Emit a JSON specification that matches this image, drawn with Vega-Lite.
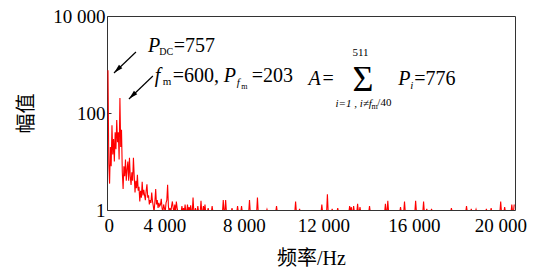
{
  "$schema": "https://vega.github.io/schema/vega-lite/v6.json",
  "width": 408,
  "height": 194,
  "autosize": {"type": "none"},
  "padding": {"left": 107, "top": 16, "right": 22, "bottom": 60},
  "datasets": {
    "spec": [
      {"f":0,"p":757},{"f":40,"p":9},{"f":80,"p":3.5},{"f":120,"p":20},{"f":160,"p":8},{"f":200,"p":56},{"f":240,"p":14},{"f":280,"p":29},{"f":320,"p":10},{"f":360,"p":40},
      {"f":400,"p":18},{"f":440,"p":72},{"f":480,"p":25},{"f":520,"p":40},{"f":560,"p":11},{"f":600,"p":203},{"f":640,"p":20},{"f":680,"p":45},{"f":720,"p":6},{"f":760,"p":2.7},
      {"f":800,"p":8},{"f":840,"p":5},{"f":880,"p":11},{"f":920,"p":4},{"f":960,"p":7},{"f":1000,"p":10},{"f":1040,"p":4},{"f":1080,"p":12},{"f":1120,"p":5},{"f":1160,"p":3.3},
      {"f":1200,"p":6},{"f":1240,"p":4},{"f":1280,"p":12},{"f":1320,"p":5},{"f":1360,"p":2.3},{"f":1400,"p":4},{"f":1440,"p":2.8},{"f":1480,"p":5.3},{"f":1520,"p":2.5},{"f":1560,"p":3},
      {"f":1600,"p":1.5},{"f":1640,"p":2.5},{"f":1680,"p":1.8},{"f":1720,"p":3.8},{"f":1760,"p":2},{"f":1800,"p":2.6},{"f":1840,"p":2},{"f":1880,"p":1.6},{"f":1920,"p":2.5},{"f":1960,"p":3.4},
      {"f":2000,"p":1.8},{"f":2040,"p":2},{"f":2080,"p":1.3},{"f":2120,"p":1.6},{"f":2160,"p":1.4},{"f":2200,"p":2.3},{"f":2240,"p":1.5},{"f":2280,"p":1.2},{"f":2320,"p":0.9},{"f":2360,"p":1.5},
      {"f":2400,"p":2.7},{"f":2440,"p":1.3},{"f":2480,"p":1.6},{"f":2520,"p":1.1},{"f":2560,"p":1.4},{"f":2600,"p":1.2},{"f":2640,"p":1.3},{"f":2680,"p":1.7},{"f":2720,"p":1.1},{"f":2760,"p":0.9},
      {"f":2800,"p":1.3},{"f":2840,"p":1.1},{"f":2880,"p":0.9},{"f":2920,"p":1.4},{"f":2960,"p":1.6},{"f":3000,"p":3.3},{"f":3040,"p":1.2},{"f":3080,"p":0.9},{"f":3120,"p":1.1},{"f":3160,"p":0.9},
      {"f":3200,"p":1.2},{"f":3240,"p":1.5},{"f":3280,"p":1.1},{"f":3320,"p":0.9},{"f":3360,"p":1.3},{"f":3400,"p":0.9},{"f":3440,"p":1.5},{"f":3480,"p":1.1},{"f":3520,"p":0.9},
      {"f":3680,"p":0.9},{"f":3720,"p":1.2},{"f":3760,"p":0.9},{"f":3800,"p":1.1},{"f":3840,"p":0.9},{"f":3880,"p":1.3},{"f":3920,"p":0.9},{"f":3960,"p":0.9},{"f":4000,"p":1.3},{"f":4040,"p":0.9},
      {"f":4080,"p":1.15},{"f":4120,"p":0.9},{"f":4160,"p":1.25},{"f":4200,"p":0.9},{"f":4240,"p":0.9},{"f":4280,"p":1.8},{"f":4320,"p":0.9},{"f":4360,"p":0.9},{"f":4400,"p":1.1},{"f":4440,"p":0.9},
      {"f":4480,"p":0.9},{"f":4520,"p":1.2},{"f":4560,"p":0.9},{"f":4640,"p":0.9},{"f":4680,"p":1.55},{"f":4720,"p":0.9},{"f":4760,"p":0.9},{"f":4800,"p":1.2},{"f":4840,"p":0.9},{"f":4880,"p":1.3},
      {"f":4920,"p":0.9},{"f":5000,"p":0.9},{"f":5040,"p":1.1},{"f":5080,"p":0.9},{"f":5200,"p":0.9},{"f":5240,"p":1.2},{"f":5280,"p":0.9},{"f":5760,"p":0.9},{"f":5800,"p":1.6},{"f":5840,"p":0.9},
      {"f":5880,"p":0.9},{"f":5920,"p":1.6},{"f":5960,"p":0.9},{"f":6200,"p":0.9},{"f":6240,"p":1.1},{"f":6280,"p":0.9},{"f":6480,"p":0.9},{"f":6520,"p":1.2},{"f":6560,"p":0.9},{"f":6680,"p":0.9},
      {"f":6720,"p":1.2},{"f":6760,"p":0.9},{"f":7080,"p":0.9},{"f":7120,"p":1.6},{"f":7160,"p":0.9},{"f":7480,"p":0.9},{"f":7520,"p":1.8},{"f":7560,"p":0.9},{"f":7960,"p":0.9},{"f":8000,"p":1.03},
      {"f":8040,"p":0.9},{"f":8440,"p":0.9},{"f":8480,"p":1.2},{"f":8520,"p":0.9},{"f":9400,"p":0.9},{"f":9440,"p":1.5},{"f":9480,"p":0.9},{"f":9600,"p":0.9},{"f":9640,"p":1.05},{"f":9680,"p":0.9},
      {"f":10720,"p":0.9},{"f":10760,"p":1.3},{"f":10800,"p":0.9},{"f":11000,"p":0.9},{"f":11040,"p":2.1},{"f":11080,"p":0.9},{"f":11240,"p":0.9},{"f":11280,"p":1.05},{"f":11320,"p":0.9},{"f":11520,"p":0.9},
      {"f":11560,"p":1.1},{"f":11600,"p":0.9},{"f":12120,"p":0.9},{"f":12160,"p":1.2},{"f":12200,"p":0.9},{"f":12240,"p":1.15},{"f":12280,"p":0.9},{"f":12320,"p":0.9},{"f":12360,"p":1.2},{"f":12400,"p":0.9},
      {"f":12520,"p":0.9},{"f":12560,"p":1.35},{"f":12600,"p":0.9},{"f":12640,"p":0.9},{"f":12680,"p":1.15},{"f":12720,"p":0.9},{"f":13120,"p":0.9},{"f":13160,"p":1.2},{"f":13200,"p":0.9},{"f":13920,"p":0.9},
      {"f":13960,"p":1.35},{"f":14000,"p":0.9},{"f":14040,"p":0.9},{"f":14080,"p":1.55},{"f":14120,"p":0.9},{"f":14680,"p":0.9},{"f":14720,"p":1.15},{"f":14760,"p":0.9},{"f":14880,"p":0.9},{"f":14920,"p":1.5},
      {"f":14960,"p":0.9},{"f":15440,"p":0.9},{"f":15480,"p":1.55},{"f":15520,"p":0.9},{"f":15840,"p":0.9},{"f":15880,"p":1.5},{"f":15920,"p":0.9},{"f":16000,"p":0.9},{"f":16040,"p":1.05},{"f":16080,"p":0.9},
      {"f":16240,"p":0.9},{"f":16280,"p":1.05},{"f":16320,"p":0.9},{"f":17240,"p":0.9},{"f":17280,"p":1.1},{"f":17320,"p":0.9},{"f":18000,"p":0.9},{"f":18040,"p":1.2},{"f":18080,"p":0.9},{"f":18240,"p":0.9},
      {"f":18280,"p":1.05},{"f":18320,"p":0.9},{"f":18480,"p":0.9},{"f":18520,"p":1.03},{"f":18560,"p":0.9},{"f":19000,"p":0.9},{"f":19040,"p":1.05},{"f":19080,"p":0.9},{"f":19240,"p":0.9},{"f":19280,"p":1.1},
      {"f":19320,"p":0.9},{"f":19720,"p":0.9},{"f":19760,"p":1.5},{"f":19800,"p":0.9},{"f":19920,"p":0.9},{"f":19960,"p":1.15},{"f":20000,"p":0.9},{"f":20280,"p":0.9},{"f":20320,"p":1.3},{"f":20360,"p":0.9},
      {"f":20400,"p":0.9},{"f":20440,"p":1.3}
    ],
    "arrows": [
      {"f":1406,"p":1811,"f2":301,"p2":668},
      {"f":2259,"p":579,"f2":1054,"p2":194}
    ],
    "heads": [
      {"f":482,"p":789},
      {"f":1235,"p":230}
    ],
    "ital20": [
      {"t":"P","f":2008,"p":1811},
      {"t":"f","f":2359,"p":436},
      {"t":"P","f":5823,"p":436},
      {"t":"A","f":10090,"p":378},
      {"t":"P","f":14608,"p":378}
    ],
    "rom20": [
      {"t":"=757","f":3313,"p":1811},
      {"t":"=600,","f":3263,"p":436},
      {"t":"=203","f":7229,"p":436},
      {"t":"=","f":10793,"p":378},
      {"t":"=776","f":15411,"p":378}
    ],
    "rom11": [
      {"t":"m","f":2761,"p":378},
      {"t":"511","f":12299,"p":1500},
      {"t":"/40","f":13554,"p":139}
    ],
    "rom10": [
      {"t":"DC","f":2585,"p":1570}
    ],
    "ital11": [
      {"t":"f","f":6476,"p":360},
      {"t":"i","f":15211,"p":312},
      {"t":"i=1 , i≠f","f":11446,"p":130}
    ],
    "rom8": [
      {"t":"m","f":6702,"p":312},
      {"t":"m","f":13253,"p":119}
    ],
    "sigma": [
      {"t":"Σ","f":12299,"p":284}
    ]
  },
  "encoding": {
    "x": {
      "field": "f", "type": "quantitative",
      "scale": {"domain": [-50, 20480], "nice": false, "zero": false},
      "axis": {
        "title": "频率/Hz",
        "values": [0, 4000, 8000, 12000, 16000, 20000],
        "labelExpr": "replace(format(datum.value, ','), ',', ' ')",
        "labelOffset": {"condition": [{"test": "datum.value == 0", "value": -4}, {"test": "datum.value == 16000", "value": -12}, {"test": "datum.value == 20000", "value": -5}], "value": -23},
        "ticks": false,
        "labelPadding": 6,
        "titlePadding": 13
      }
    },
    "y": {
      "field": "p", "type": "quantitative",
      "scale": {"type": "log", "domain": [1, 10000], "nice": false},
      "axis": {
        "title": "幅值",
        "values": [1, 100, 10000],
        "labelExpr": "replace(format(datum.value, ','), ',', ' ')",
        "tickSize": -4,
        "labelPadding": 6,
        "titlePadding": 16
      }
    }
  },
  "layer": [
    {
      "data": {"name": "spec"},
      "mark": {"type": "line", "color": "#ff0000", "strokeWidth": 1.1, "clip": true}
    },
    {
      "data": {"name": "arrows"},
      "mark": {"type": "rule", "color": "#000000", "strokeWidth": 1.2},
      "encoding": {"x2": {"field": "f2"}, "y2": {"field": "p2"}}
    },
    {
      "data": {"name": "heads"},
      "mark": {"type": "point", "shape": "M0,-1L0.5,0.9L-0.5,0.9Z", "size": 90, "angle": 226, "filled": true, "color": "#000000", "opacity": 1}
    },
    {
      "data": {"name": "ital20"},
      "mark": {"type": "text", "font": "Liberation Serif", "fontStyle": "italic", "fontSize": 20, "align": "left", "baseline": "alphabetic", "color": "#000000"},
      "encoding": {"text": {"field": "t"}}
    },
    {
      "data": {"name": "rom20"},
      "mark": {"type": "text", "font": "Liberation Serif", "fontSize": 20, "align": "left", "baseline": "alphabetic", "color": "#000000"},
      "encoding": {"text": {"field": "t"}}
    },
    {
      "data": {"name": "rom11"},
      "mark": {"type": "text", "font": "Liberation Serif", "fontSize": 11, "align": "left", "baseline": "alphabetic", "color": "#000000"},
      "encoding": {"text": {"field": "t"}}
    },
    {
      "data": {"name": "rom10"},
      "mark": {"type": "text", "font": "Liberation Serif", "fontSize": 10, "align": "left", "baseline": "alphabetic", "color": "#000000"},
      "encoding": {"text": {"field": "t"}}
    },
    {
      "data": {"name": "ital11"},
      "mark": {"type": "text", "font": "Liberation Serif", "fontStyle": "italic", "fontSize": 11, "align": "left", "baseline": "alphabetic", "color": "#000000"},
      "encoding": {"text": {"field": "t"}}
    },
    {
      "data": {"name": "rom8"},
      "mark": {"type": "text", "font": "Liberation Serif", "fontSize": 8, "align": "left", "baseline": "alphabetic", "color": "#000000"},
      "encoding": {"text": {"field": "t"}}
    },
    {
      "data": {"name": "sigma"},
      "mark": {"type": "text", "font": "Liberation Serif", "fontSize": 36, "align": "left", "baseline": "alphabetic", "color": "#000000"},
      "encoding": {"text": {"field": "t"}}
    }
  ],
  "config": {
    "view": {"stroke": "#333333", "strokeWidth": 1},
    "axis": {
      "grid": false,
      "domain": false,
      "tickColor": "#333333",
      "labelFont": "Liberation Serif",
      "labelFontSize": 19,
      "labelColor": "#000000",
      "titleFont": "Liberation Serif, Noto Sans CJK SC",
      "titleFontSize": 20,
      "titleFontWeight": "normal",
      "titleColor": "#000000"
    }
  }
}
